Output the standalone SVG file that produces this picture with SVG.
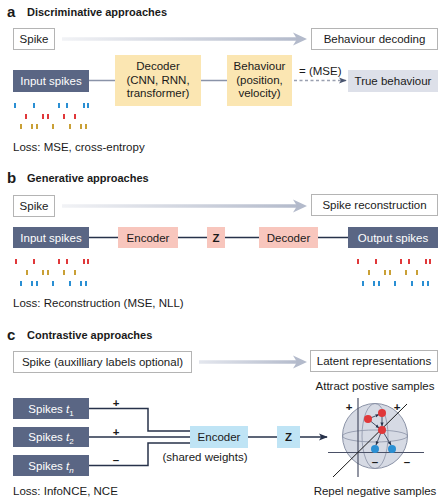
<svg xmlns="http://www.w3.org/2000/svg" width="448" height="500" viewBox="0 0 448 500">
<defs>
<linearGradient id="ga" gradientUnits="userSpaceOnUse" x1="60" y1="0" x2="300" y2="0"><stop offset="0" stop-color="#f2f3f6"/><stop offset="1" stop-color="#b3bacb"/></linearGradient>
<linearGradient id="gc" gradientUnits="userSpaceOnUse" x1="198" y1="0" x2="300" y2="0"><stop offset="0" stop-color="#e4e7ee"/><stop offset="1" stop-color="#b3bacb"/></linearGradient>
<marker id="ah" viewBox="0 0 10 10" refX="9" refY="5" markerWidth="6" markerHeight="6" orient="auto"><path d="M0,1 L10,5 L0,9 L2.5,5 Z" fill="#27324a"/></marker>
<marker id="ahg" viewBox="0 0 10 10" refX="9" refY="5" markerWidth="6" markerHeight="6" orient="auto"><path d="M0,1 L10,5 L0,9 L2.5,5 Z" fill="#4a5570"/></marker>
<marker id="ahs" viewBox="0 0 10 10" refX="9" refY="5" markerWidth="5" markerHeight="5" orient="auto"><path d="M0,1 L10,5 L0,9 Z" fill="#27324a"/></marker>
</defs>
<style>
text{font-family:"Liberation Sans",Arial,sans-serif;font-size:11.5px;fill:#1a1a1a}
.t{font-weight:bold;font-size:11px}
.L{font-weight:bold;font-size:15px}
.c{text-anchor:middle}
.w{fill:#ffffff}
.ob{fill:#ffffff;stroke:#b4b4b4;stroke-width:1}
.dk{fill:#5a6684}
.yl{fill:#fbe6b2}
.pk{fill:#f8c6bd}
.lb{fill:#bfe4f5}
.gl{stroke:#8a93a8;stroke-width:1.5;fill:none}
.nv{stroke:#27324a;stroke-width:1.5;fill:none}
.r{fill:#e0383a}
.b{fill:#2a8fd3}
.y{fill:#c9a036}
</style>

<!-- Section a -->
<text class="L" x="7" y="17">a</text>
<text class="t" x="27" y="16">Discriminative approaches</text>
<g id="a-spike"><rect class="ob" x="13.5" y="28.5" width="41" height="21"/><text class="c" x="34" y="43">Spike</text></g>
<g id="a-behdec"><rect class="ob" x="311.5" y="28.5" width="126" height="21"/><text class="c" x="374.5" y="43">Behaviour decoding</text></g>
<g id="a-input"><rect class="dk" x="13" y="70" width="76" height="22"/><text class="c w" x="51" y="85">Input spikes</text></g>
<g id="a-decoder"><rect class="yl" x="115" y="55" width="86" height="51"/><text class="c" x="158" y="70">Decoder</text><text class="c" x="158" y="84">(CNN, RNN,</text><text class="c" x="158" y="97">transformer)</text></g>
<g id="a-behaviour"><rect class="yl" x="227" y="55" width="65" height="51"/><text class="c" x="259.5" y="70">Behaviour</text><text class="c" x="259.5" y="84">(position,</text><text class="c" x="259.5" y="97">velocity)</text></g>
<g id="a-true"><rect x="348" y="70" width="90" height="22" fill="#dde0e9"/><text class="c" x="393" y="85">True behaviour</text></g>
<text x="299" y="75">= (MSE)</text>
<g id="a-raster">
<g class="b"><rect x="14" y="103" width="2" height="5"/><rect x="33" y="103" width="2" height="5"/><rect x="58" y="103" width="2" height="5"/><rect x="66" y="103" width="2" height="5"/><rect x="83" y="103" width="2" height="5"/><rect x="87" y="103" width="2" height="5"/></g>
<g class="r"><rect x="25" y="114" width="2" height="5"/><rect x="42" y="114" width="2" height="5"/><rect x="47" y="114" width="2" height="5"/><rect x="63" y="114" width="2" height="5"/><rect x="74" y="114" width="2" height="5"/></g>
<g class="y"><rect x="20" y="124" width="2" height="5"/><rect x="31" y="124" width="2" height="5"/><rect x="36" y="124" width="2" height="5"/><rect x="52" y="124" width="2" height="5"/><rect x="69" y="124" width="2" height="5"/><rect x="80" y="124" width="2" height="5"/><rect x="85" y="124" width="2" height="5"/></g>
</g>
<text x="13" y="151">Loss: MSE, cross-entropy</text>

<!-- Section b -->
<text class="L" x="7" y="183">b</text>
<text class="t" x="27" y="182">Generative approaches</text>
<g id="b-spike"><rect class="ob" x="13.5" y="195.5" width="41" height="21"/><text class="c" x="34" y="210">Spike</text></g>
<g id="b-recon"><rect class="ob" x="311.5" y="194.5" width="126" height="21"/><text class="c" x="374.5" y="209">Spike reconstruction</text></g>
<g id="b-input"><rect class="dk" x="13" y="227" width="76" height="21"/><text class="c w" x="51" y="241.5">Input spikes</text></g>
<g id="b-encoder"><rect class="pk" x="118" y="227" width="60" height="21"/><text class="c" x="148" y="241.5">Encoder</text></g>
<g id="b-z"><rect class="pk" x="207" y="227" width="18" height="21"/><text class="c" x="216" y="241.5" font-weight="bold">Z</text></g>
<g id="b-decoder"><rect class="pk" x="259" y="227" width="59" height="21"/><text class="c" x="288.5" y="241.5">Decoder</text></g>
<g id="b-output"><rect class="dk" x="348" y="227" width="90" height="21"/><text class="c w" x="393" y="241.5">Output spikes</text></g>
<g id="b-raster-in">
<g class="r"><rect x="15" y="259" width="2" height="5"/><rect x="33" y="259" width="2" height="5"/><rect x="58" y="259" width="2" height="5"/><rect x="66" y="259" width="2" height="5"/><rect x="83" y="259" width="2" height="5"/><rect x="87" y="259" width="2" height="5"/></g>
<g class="y"><rect x="26" y="270" width="2" height="5"/><rect x="42" y="270" width="2" height="5"/><rect x="47" y="270" width="2" height="5"/><rect x="63" y="270" width="2" height="5"/><rect x="74" y="270" width="2" height="5"/></g>
<g class="b"><rect x="20" y="281" width="2" height="5"/><rect x="31" y="281" width="2" height="5"/><rect x="36" y="281" width="2" height="5"/><rect x="52" y="281" width="2" height="5"/><rect x="69" y="281" width="2" height="5"/><rect x="80" y="281" width="2" height="5"/><rect x="85" y="281" width="2" height="5"/></g>
</g>
<g id="b-raster-out" transform="translate(342,0)">
<g class="r"><rect x="15" y="259" width="2" height="5"/><rect x="33" y="259" width="2" height="5"/><rect x="58" y="259" width="2" height="5"/><rect x="66" y="259" width="2" height="5"/><rect x="83" y="259" width="2" height="5"/><rect x="87" y="259" width="2" height="5"/></g>
<g class="y"><rect x="26" y="270" width="2" height="5"/><rect x="42" y="270" width="2" height="5"/><rect x="47" y="270" width="2" height="5"/><rect x="63" y="270" width="2" height="5"/><rect x="74" y="270" width="2" height="5"/></g>
<g class="b"><rect x="20" y="281" width="2" height="5"/><rect x="31" y="281" width="2" height="5"/><rect x="36" y="281" width="2" height="5"/><rect x="52" y="281" width="2" height="5"/><rect x="69" y="281" width="2" height="5"/><rect x="80" y="281" width="2" height="5"/><rect x="85" y="281" width="2" height="5"/></g>
</g>
<text x="13" y="307">Loss: Reconstruction (MSE, NLL)</text>

<!-- Section c -->
<text class="L" x="7" y="340">c</text>
<text class="t" x="27" y="339">Contrastive approaches</text>
<g id="c-spike"><rect class="ob" x="13.5" y="351.5" width="178" height="21"/><text class="c" x="102.5" y="366">Spike (auxilliary labels optional)</text></g>
<g id="c-latent"><rect class="ob" x="310.5" y="350.5" width="127" height="21"/><text class="c" x="374" y="365">Latent representations</text></g>
<text class="c" x="375" y="390">Attract postive samples</text>
<g id="c-t1"><rect class="dk" x="13" y="398" width="76" height="21"/><text class="c w" x="51" y="412.5">Spikes <tspan font-style="italic">t</tspan><tspan font-size="8" dy="3">1</tspan></text></g>
<g id="c-t2"><rect class="dk" x="13" y="427" width="76" height="20"/><text class="c w" x="51" y="441">Spikes <tspan font-style="italic">t</tspan><tspan font-size="8" dy="3">2</tspan></text></g>
<g id="c-tn"><rect class="dk" x="13" y="455" width="76" height="21"/><text class="c w" x="51" y="469.5">Spikes <tspan font-style="italic">t</tspan><tspan font-size="8" font-style="italic" dy="3">n</tspan></text></g>
<text class="c" x="116" y="407" font-weight="bold">+</text>
<text class="c" x="116" y="436" font-weight="bold">+</text>
<text class="c" x="116" y="464" font-weight="bold">–</text>
<g id="c-encoder"><rect class="lb" x="190" y="426" width="58" height="22"/><text class="c" x="219" y="441">Encoder</text></g>
<text class="c" x="205" y="461">(shared weights)</text>
<g id="c-z"><rect class="lb" x="277" y="426" width="23" height="22"/><text class="c" x="288.5" y="441" font-weight="bold">Z</text></g>
<g id="c-sphere">
<circle cx="375" cy="436" r="32.5" fill="#d6dae4" stroke="#8a92a6" stroke-width="1"/>
<ellipse cx="375" cy="436" rx="32.5" ry="6" fill="none" stroke="#8a92a6" stroke-width="0.8"/>
<ellipse cx="375" cy="436" rx="13" ry="32.5" fill="none" stroke="#8a92a6" stroke-width="0.8"/>
<line x1="328" y1="452.5" x2="424" y2="452.5" stroke="#4a5066" stroke-width="1.2"/>
<line x1="358" y1="398" x2="358" y2="477" stroke="#4a5066" stroke-width="1.2"/>
<line x1="333" y1="477" x2="407" y2="404" stroke="#1a1a1a" stroke-width="1"/>
<g stroke="#27324a" stroke-width="0.8">
<line x1="368" y1="419" x2="379" y2="414.5" marker-end="url(#ahs)"/>
<line x1="382" y1="413" x2="382" y2="426" marker-end="url(#ahs)"/>
<line x1="368" y1="419" x2="379" y2="428" marker-end="url(#ahs)"/>
<line x1="382" y1="430" x2="376" y2="445" marker-end="url(#ahs)"/>
<line x1="382" y1="430" x2="391" y2="445" marker-end="url(#ahs)"/>
</g>
<circle class="r" cx="368" cy="419" r="4"/>
<circle class="r" cx="382" cy="413" r="4"/>
<circle class="r" cx="382" cy="430" r="4"/>
<circle class="b" cx="375" cy="449" r="4"/>
<circle class="b" cx="392" cy="449" r="4"/>
<text class="c" x="349" y="411" font-weight="bold">+</text>
<text class="c" x="397" y="411" font-weight="bold">+</text>
<text class="c" x="375" y="466" font-weight="bold">–</text>
<text class="c" x="407" y="466" font-weight="bold">–</text>
</g>
<text class="c" x="375" y="495">Repel negative samples</text>
<text x="13" y="495">Loss: InfoNCE, NCE</text>

<!-- Connectors -->
<g id="connectors">
<line x1="62" y1="39" x2="298" y2="39" stroke="url(#ga)" stroke-width="3.5"/>
<path d="M293,32.5 L307,39 L293,45.5 L297,39 Z" fill="#b3bacb"/>
<line x1="89" y1="80.5" x2="115" y2="80.5" class="gl"/>
<line x1="201" y1="80.5" x2="227" y2="80.5" class="gl"/>
<line x1="294" y1="80.5" x2="346" y2="80.5" stroke="#9aa0b0" stroke-width="1.3" stroke-dasharray="3,2.5" marker-end="url(#ahg)"/>

<line x1="62" y1="206" x2="298" y2="206" stroke="url(#ga)" stroke-width="3.5"/>
<path d="M293,199.5 L307,206 L293,212.5 L297,206 Z" fill="#b3bacb"/>
<line x1="89" y1="237.5" x2="118" y2="237.5" class="nv"/>
<line x1="178" y1="237.5" x2="207" y2="237.5" class="nv"/>
<line x1="225" y1="237.5" x2="259" y2="237.5" class="nv"/>
<line x1="318" y1="237.5" x2="348" y2="237.5" class="nv"/>

<line x1="199" y1="362" x2="298" y2="362" stroke="url(#gc)" stroke-width="3.5"/>
<path d="M293,355.5 L307,362 L293,368.5 L297,362 Z" fill="#b3bacb"/>
<path d="M89,408.5 H148 V431 H190" class="nv"/>
<path d="M89,437 H190" class="nv"/>
<path d="M89,465.5 H148 V443 H190" class="nv"/>
<line x1="248" y1="437" x2="277" y2="437" class="nv"/>
<line x1="300" y1="437" x2="327" y2="437" class="nv" marker-end="url(#ah)"/>
</g>
</svg>
